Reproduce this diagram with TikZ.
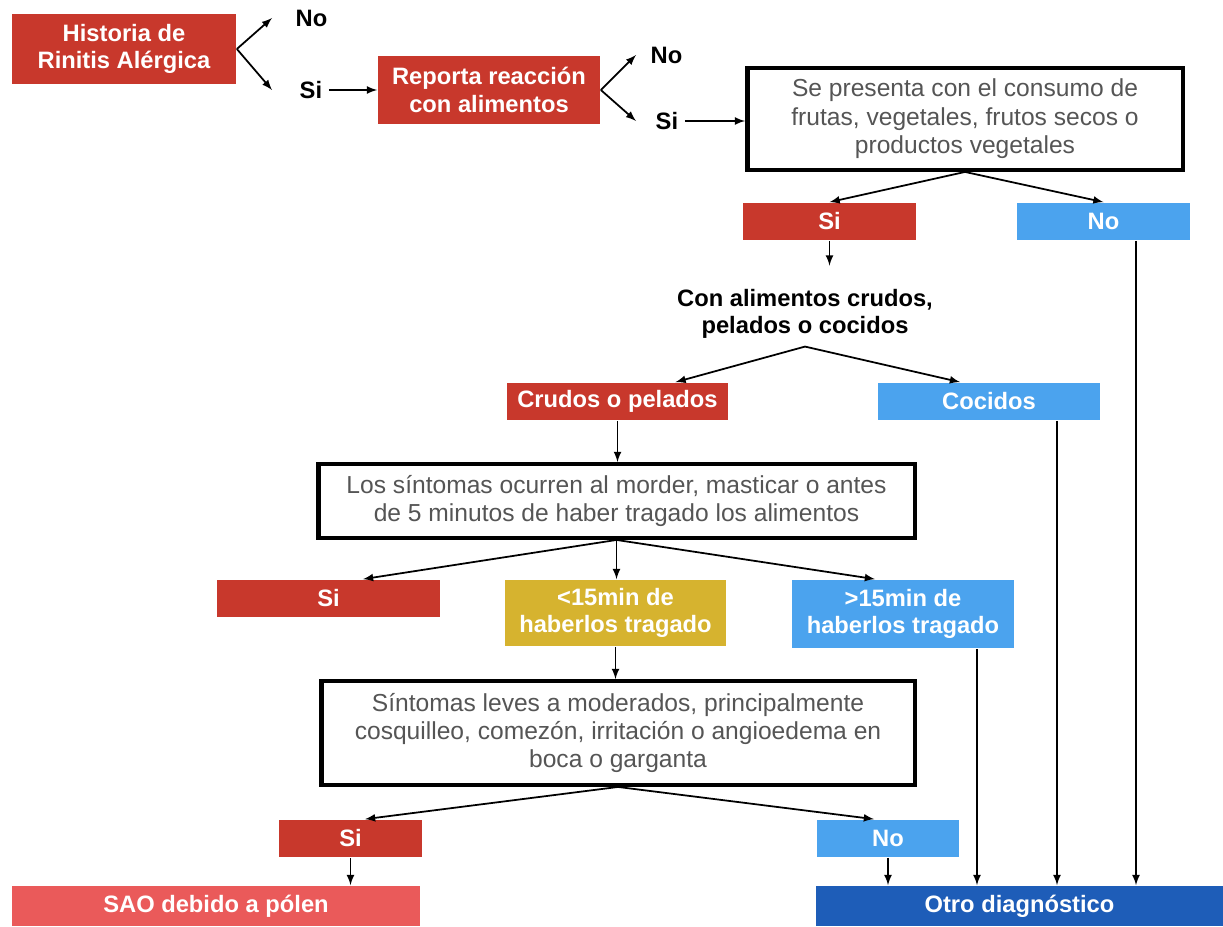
\documentclass[tikz,border=0pt]{standalone}
\usepackage{fontspec}
\setmainfont{Liberation Sans}
\usepackage{xcolor}
\usepackage{tikz}
\usetikzlibrary{positioning}

\definecolor{sred}{HTML}{C8382C}
\definecolor{sblue}{HTML}{4BA3EE}
\definecolor{syellow}{HTML}{D6B32F}
\definecolor{spink}{HTML}{EA5A5A}
\definecolor{sdblue}{HTML}{1E5DB8}
\definecolor{tgray}{HTML}{555555}

\begin{document}
\begin{tikzpicture}[
          x=0.02cm, y=-0.02cm, line width=1pt,
          fbox/.style={text=white,font=\bfseries\fontsize{13.5}{15.5}\selectfont,align=center,inner sep=0pt},
          redbox/.style={fbox,fill=sred},
          bluebox/.style={fbox,fill=sblue},
          yelbox/.style={fbox,fill=syellow},
          qbox/.style={draw,line width=2.5pt,text=tgray,font=\fontsize{14}{16.2}\selectfont,align=center,inner sep=0pt},
          lbl/.style={font=\bfseries\fontsize{13.5}{15.5}\selectfont}
          ]

          \useasboundingbox (0,0) rectangle (1223,926);

          % first row
          \node[redbox,minimum width=4.48cm,minimum height=1.4cm] (hist) at (124,49) {Historia de\\Rinitis Alérgica};
          \coordinate (a1) at (272,18);
          \coordinate (a2) at (272,90);
          \node[lbl,right=0.34cm of a1] (hno) {No};
          \node[lbl,right=0.42cm of a2] (hsi) {Si};

          \node[redbox,minimum width=4.44cm,minimum height=1.36cm] (rep) at (489,90) {Reporta reacción\\con alimentos};
          \coordinate (b1) at (636,55);
          \coordinate (b2) at (636,121);
          \node[lbl,right=0.16cm of b1] (rno) {No};
          \node[lbl,right=0.26cm of b2] (rsi) {Si};

          \node[qbox,minimum width=8.71cm,minimum height=2.03cm] (cons) at (965,119)
               {Se presenta con el consumo de\\frutas, vegetales, frutos secos o\\productos vegetales};

          \path (hist.east) edge[-latex] (a1)
          (hist.east) edge[-latex] (a2)
          (hsi) edge[-latex] (rep)
          (rep.east) edge[-latex] (b1)
          (rep.east) edge[-latex] (b2)
          (rsi.east) edge[-latex] (cons.west |- rsi.east)
          ;

          % frutas y vegetales
          \node[redbox,minimum width=3.46cm,minimum height=0.74cm] (si1) at (829.5,221.5) {Si};
          \node[bluebox,minimum width=3.46cm,minimum height=0.74cm] (no1) at (1103.5,221.5) {No};
          \node[lbl,align=center,inner sep=4pt] (q) at (805,314) {Con alimentos crudos,\\pelados o cocidos};

          \node[redbox,minimum width=4.42cm,minimum height=0.74cm] (crud) at (617.5,401.5) {Crudos o pelados};
          \node[bluebox,minimum width=4.44cm,minimum height=0.74cm] (coc) at (989,401.5) {Cocidos};

          \path (cons.south) edge[-latex] (si1.north)
          (cons.south) edge[-latex] (no1.north)
          (si1.south) edge[-latex,shorten >=9pt] (si1.south |- q.north)
          (q.south) edge[-latex] ([xshift=1.16cm]crud.north)
          (q.south) edge[-latex] ([xshift=-0.58cm]coc.north)
          ;

          % tiempo de los sintomas
          \node[qbox,minimum width=11.93cm,minimum height=1.47cm] (sint) at (616.5,501)
               {Los síntomas ocurren al morder, masticar o antes\\de 5 minutos de haber tragado los alimentos};
          \node[redbox,minimum width=4.46cm,minimum height=0.74cm] (si2) at (328.5,598.5) {Si};
          \node[yelbox,minimum width=4.42cm,minimum height=1.32cm] (lt15) at (615.5,613) {<15min de\\haberlos tragado};
          \node[bluebox,minimum width=4.44cm,minimum height=1.36cm] (gt15) at (903,614) {>15min de\\haberlos tragado};

          \path (crud.south) edge[-latex] (crud.south |- sint.north)
          (sint.south) edge[-latex] ([xshift=0.69cm]si2.north)
          (sint.south) edge[-latex] (sint.south |- lt15.north)
          (sint.south) edge[-latex] ([xshift=-0.56cm]gt15.north)
          ;

          % tipo de sintomas
          \node[qbox,minimum width=11.87cm,minimum height=2.07cm] (leve) at (618,733)
               {Síntomas leves a moderados, principalmente\\cosquilleo, comezón, irritación o angioedema en\\boca o garganta};
          \node[redbox,minimum width=2.86cm,minimum height=0.74cm] (si3) at (350.5,838.5) {Si};
          \node[bluebox,minimum width=2.84cm,minimum height=0.74cm] (no3) at (888,838.5) {No};

          \node[fbox,fill=spink,minimum width=8.16cm,minimum height=0.8cm] (sao) at (216,906) {SAO debido a pólen};
          \node[fbox,fill=sdblue,minimum width=8.14cm,minimum height=0.8cm] (otro) at (1019.5,906) {Otro diagnóstico};

          \path ([xshift=1.48cm]gt15.south) coordinate (v1)
          ([xshift=1.36cm]coc.south) coordinate (v2)
          ([xshift=0.65cm]no1.south) coordinate (v3);

          \path (lt15.south) edge[-latex] (lt15.south |- leve.north)
          (leve.south) edge[-latex] ([xshift=0.29cm]si3.north)
          (leve.south) edge[-latex] ([xshift=-0.28cm]no3.north)
          (si3.south) edge[-latex] (si3.south |- sao.north)
          (no3.south) edge[-latex] (no3.south |- otro.north)
          (v1) edge[-latex] (v1 |- otro.north)
          (v2) edge[-latex] (v2 |- otro.north)
          (v3) edge[-latex] (v3 |- otro.north)
          ;
        \end{tikzpicture}
\end{document}
